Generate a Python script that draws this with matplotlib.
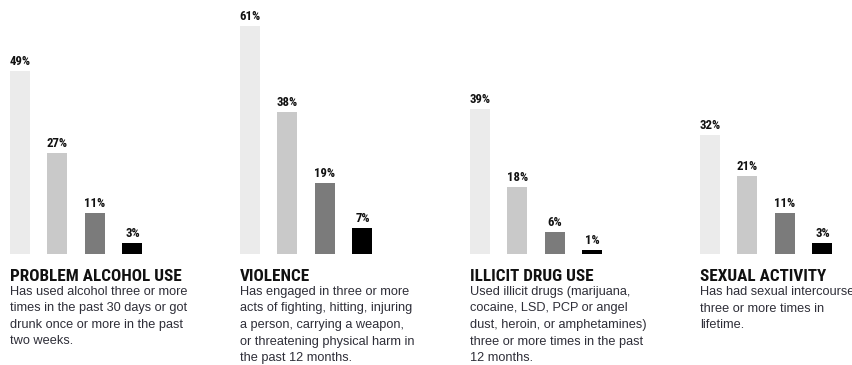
import matplotlib.pyplot as plt
from matplotlib import font_manager

# Data
titles = ["PROBLEM ALCOHOL USE", "VIOLENCE", "ILLICIT DRUG USE", "SEXUAL ACTIVITY"]
descriptions = [
    "Has used alcohol three or more\ntimes in the past 30 days or got\ndrunk once or more in the past\ntwo weeks.",
    "Has engaged in three or more\nacts of fighting, hitting, injuring\na person, carrying a weapon,\nor threatening physical harm in\nthe past 12 months.",
    "Used illicit drugs (marijuana,\ncocaine, LSD, PCP or angel\ndust, heroin, or amphetamines)\nthree or more times in the past\n12 months.",
    "Has had sexual intercourse\nthree or more times in\nlifetime.",
]
alcohol  = [49, 27, 11, 3]
violence = [61, 38, 19, 7]
drugs    = [39, 18, 6, 1]
sexual   = [32, 21, 11, 3]
values   = [alcohol, violence, drugs, sexual]

bar_colors = ["#ebebeb", "#c9c9c9", "#7b7b7b", "#000000"]

W, H = 853, 365

# look for a condensed face, else fall back
names = sorted({f.name for f in font_manager.fontManager.ttflist})
narrow = "DejaVu Sans"
for cand in ["Liberation Sans Narrow", "Roboto Condensed", "Open Sans Condensed",
             "Noto Sans Condensed", "DejaVu Sans Condensed"]:
    if cand in names:
        narrow = cand
        break
else:
    for n in names:
        if "Condensed" in n or "Narrow" in n:
            narrow = n
            break

fig = plt.figure(figsize=(W / 100, H / 100), dpi=100)
fig.patch.set_facecolor("white")
renderer = fig.canvas.get_renderer()


def fit_size(txt, family, weight, size, target_px):
    t = fig.text(0, 0, txt, fontsize=size, family=family, fontweight=weight)
    w = t.get_window_extent(renderer).width
    t.remove()
    return size * target_px / w


title_size = fit_size(titles[0], narrow, "bold", 12, 172)
desc_size  = fit_size("times in the past 30 days or got", "Liberation Sans", "normal", 8, 178)
pct_size   = fit_size("49%", narrow, "bold", 8, 21)

base_px  = 254          # baseline of bars, from top
px_per   = 3.73         # pixels per percent
ymax     = 68
panel_x  = [10, 240, 470, 700]
spacing  = 37.5         # px between bar starts
bar_w    = 20 / spacing
ax_w     = 150

for i in range(4):
    ax_h = ymax * px_per
    ax = fig.add_axes([panel_x[i] / W, (H - base_px) / H, ax_w / W, ax_h / H])
    ax.set_xlim(0, ax_w / spacing)
    ax.set_ylim(0, ymax)
    xs = [k for k in range(4)]
    ax.bar(xs, values[i], width=bar_w, align="edge", color=bar_colors)
    for x, v in zip(xs, values[i]):
        ax.text(x + bar_w / 2, v + 0.8, f"{v}%", ha="center", va="bottom",
                fontsize=pct_size, fontweight="bold", family=narrow, color="#111111")
    ax.axis("off")

    fig.text(panel_x[i] / W, 1 - 281 / H, titles[i], ha="left", va="baseline",
             fontsize=title_size, fontweight="bold", family=narrow, color="#111111")
    fig.text(panel_x[i] / W, 1 - 286 / H, descriptions[i], ha="left", va="top",
             fontsize=desc_size, family="Liberation Sans", color="#2e2e38", linespacing=1.5)

fig.savefig("out.png", dpi=100)
